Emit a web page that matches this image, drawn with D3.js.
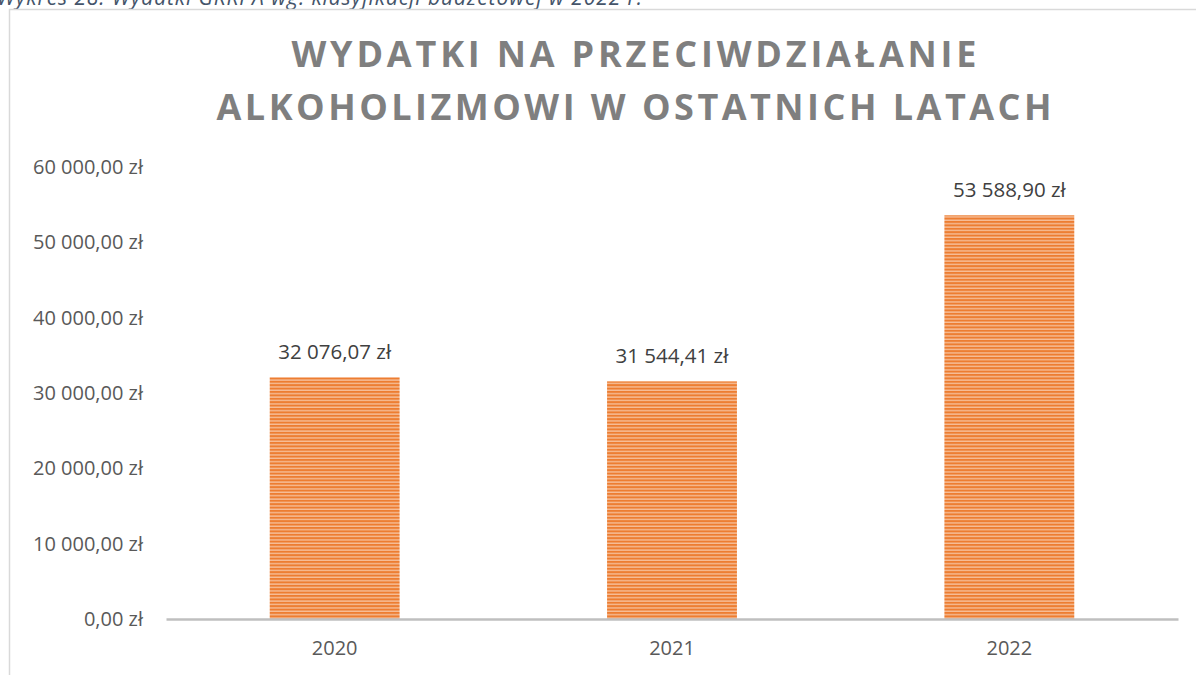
<!DOCTYPE html>
<html>
<head>
<meta charset="utf-8">
<script src="https://cdn.jsdelivr.net/npm/d3@7"></script>
<style>
  body { margin: 0; background: #fff; }
  svg { display: block; font-family: "Open Sans", sans-serif; }
</style>
</head>
<body>
<svg id="chart" width="1196" height="675"></svg>
<script>
// chart data
const years = ['2020', '2021', '2022'];
const amounts = [32076.07, 31544.41, 53588.90];
const yTicks = [0, 10000, 20000, 30000, 40000, 50000, 60000];
const titleLines = ['WYDATKI NA PRZECIWDZIAŁANIE', 'ALKOHOLIZMOWI W OSTATNICH LATACH'];
const caption = 'Wykres 28. Wydatki GKRPA wg. klasyfikacji budżetowej w 2022 r.';

const svg = d3.select('#chart');

// polish money format: "32 076,07 zł"
const fmt = v => {
  const parts = v.toFixed(2).split('.');
  const int = parts[0].replace(/\B(?=(\d{3})+(?!\d))/g, ' ');
  return int + ',' + parts[1] + ' zł';
};

// striped fill like the excel pattern
const defs = svg.append('defs');
const pat = defs.append('pattern')
  .attr('id', 'stripes')
  .attr('patternUnits', 'userSpaceOnUse')
  .attr('width', 10).attr('height', 3.4);
pat.append('rect').attr('width', 10).attr('height', 3.4).attr('fill', '#F6BE98');
pat.append('rect').attr('y', 0).attr('width', 10).attr('height', 2).attr('fill', '#ED7D31');

// caption, cut off at the top like in the source
svg.append('text')
  .attr('x', -3).attr('y', 5)
  .attr('font-style', 'italic')
  .attr('font-size', 21)
  .attr('fill', '#44546A')
  .attr('textLength', 645)
  .attr('lengthAdjust', 'spacing')
  .text(caption);

// chart frame
svg.append('rect')
  .attr('x', 9.5).attr('y', 9.5)
  .attr('width', 1200).attr('height', 700)
  .attr('fill', 'none')
  .attr('stroke', '#D9D9D9')
  .attr('stroke-width', 1.5);

// title
svg.selectAll('.title')
  .data(titleLines)
  .enter()
  .append('text')
  .attr('class', 'title')
  .attr('x', 634)
  .attr('y', (d, i) => 67 + i * 53)
  .attr('text-anchor', 'middle')
  .attr('font-size', 36)
  .attr('font-weight', 700)
  .attr('fill', '#7F7F7F')
  .attr('textLength', (d, i) => i === 0 ? 685 : 835)
  .attr('lengthAdjust', 'spacing')
  .text(d => d);

const x = d3.scaleBand()
  .domain(years)
  .range([166, 1178])
  .paddingInner(0.615)
  .paddingOuter(0.3075);

const y = d3.scaleLinear()
  .domain([0, 60000])
  .range([619, 167]);

// y labels (no gridlines in the original)
svg.append('g')
  .attr('transform', 'translate(143,0)')
  .call(d3.axisLeft(y).tickValues(yTicks).tickFormat(fmt).tickSize(0).tickPadding(0))
  .call(g => g.select('.domain').remove())
  .call(g => g.selectAll('text')
    .attr('font-family', '"Open Sans", sans-serif')
    .attr('font-size', 20)
    .attr('fill', '#595959'));

// bars
svg.selectAll('.bar')
  .data(amounts)
  .enter()
  .append('rect')
  .attr('class', 'bar')
  .attr('x', (d, i) => x(years[i]))
  .attr('y', d => y(d))
  .attr('width', x.bandwidth())
  .attr('height', d => y(0) - y(d))
  .attr('fill', 'url(#stripes)');

// value labels
svg.selectAll('.val')
  .data(amounts)
  .enter()
  .append('text')
  .attr('class', 'val')
  .attr('x', (d, i) => x(years[i]) + x.bandwidth() / 2)
  .attr('y', d => y(d) - 18)
  .attr('text-anchor', 'middle')
  .attr('font-size', 20.5)
  .attr('fill', '#404040')
  .text(d => fmt(d));

// x axis
svg.append('g')
  .attr('transform', 'translate(0,619)')
  .call(d3.axisBottom(x).tickSize(0).tickPadding(22))
  .call(g => g.select('.domain')
    .attr('stroke', '#BFBFBF')
    .attr('stroke-width', 2.5))
  .call(g => g.selectAll('text')
    .attr('font-family', '"Open Sans", sans-serif')
    .attr('font-size', 20)
    .attr('fill', '#595959'));
</script>
</body>
</html>
